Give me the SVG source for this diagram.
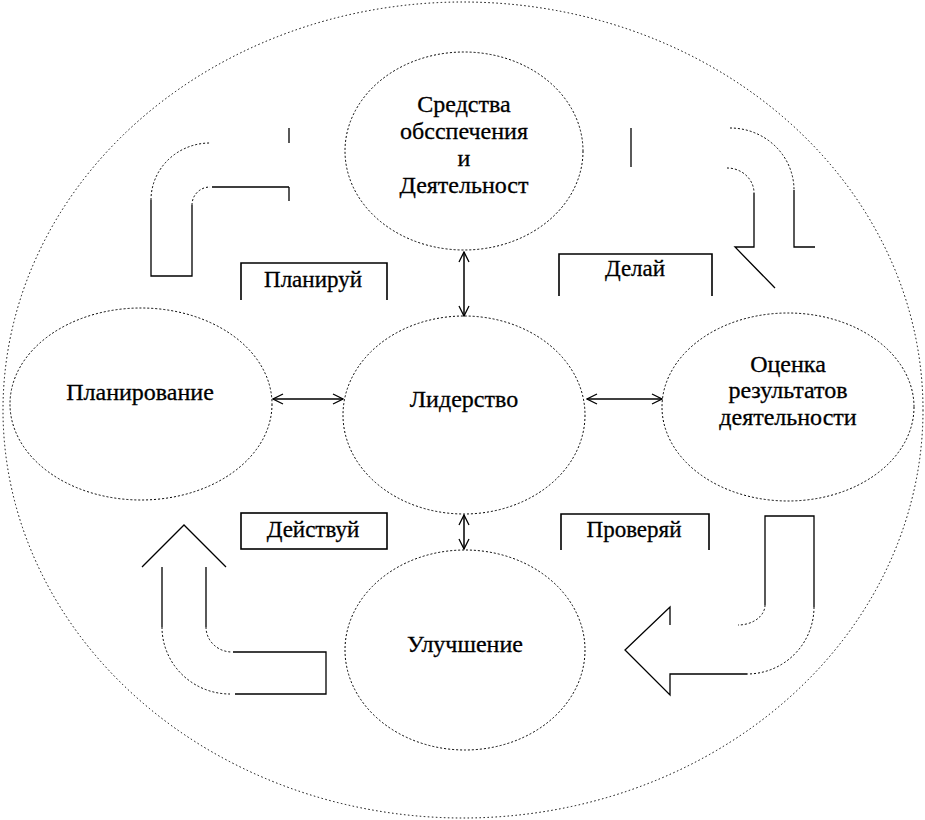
<svg xmlns="http://www.w3.org/2000/svg" width="925" height="820" viewBox="0 0 925 820">
<style>
.dot{fill:none;stroke:#000;stroke-width:1;stroke-dasharray:2 2}
.node{fill:#fff;stroke:#000;stroke-width:1;stroke-dasharray:2 2}
.solid{fill:none;stroke:#000;stroke-width:1.3}
.box{fill:none;stroke:#000;stroke-width:1.6}
.t{font-family:"Liberation Serif","Times New Roman",serif;font-size:24px;fill:#000;stroke:#000;stroke-width:0.3;text-anchor:middle}
.s{font-size:23px}
.conn{stroke:#000;stroke-width:1.5;fill:none;marker-start:url(#ah);marker-end:url(#ah)}
</style>
<defs>
<marker id="ah" viewBox="0 0 12 12" refX="11" refY="6" markerWidth="12" markerHeight="12" markerUnits="userSpaceOnUse" orient="auto-start-reverse">
<path d="M1,1 L11,6 L1,11" fill="none" stroke="#000" stroke-width="1.3"/>
</marker>
</defs>
<rect width="925" height="820" fill="#fff"/>
<ellipse id="outer" cx="463" cy="410" rx="460" ry="408" fill="none" stroke="#000" stroke-width="1" stroke-dasharray="1.5 2.5"/>

<g id="arrow-plan">
<path class="solid" d="M151,200 V276 H192 V205"/>
<path class="dot" d="M151,200 A59,57 0 0 1 210,143"/>
<path class="dot" d="M192,205 A18,18 0 0 1 210,187"/>
<path class="solid" d="M212,187 H289 M289,128 V143 M289,187 V201"/>
</g>
<g id="arrow-do">
<path class="solid" d="M631,128 V167"/>
<path class="dot" d="M730,128 A64,62 0 0 1 794,190"/>
<path class="solid" d="M794,190 V247 H815"/>
<path class="dot" d="M727,168 A27,25 0 0 1 754,193"/>
<path class="solid" d="M754,193 V247 H735 L775,288"/>
</g>
<g id="arrow-act">
<path class="solid" d="M142,567 L184,525 L226,567 M162,567 V627 M206,567 V627"/>
<path class="dot" d="M162,627 A68,67 0 0 0 230,694"/>
<path class="dot" d="M206,627 A26,25 0 0 0 232,652"/>
<path class="solid" d="M233,652 H326 V694 H235"/>
</g>
<g id="arrow-check">
<path class="solid" d="M765,605 V516 H814 V607"/>
<path class="dot" d="M814,607 A67,67 0 0 1 747,674"/>
<path class="dot" d="M765,605 A27,20 0 0 1 738,625"/>
<path class="solid" d="M747,674 H670 V695 L625,650 L670,607 V625"/>
</g>

<g id="node-means">
<ellipse class="node" cx="464" cy="151" rx="119" ry="99"/>
<text class="t" x="464" y="112">Средства</text>
<text class="t" x="464" y="139">обсспечения</text>
<text class="t" x="464" y="166">и</text>
<text class="t" x="464" y="193">Деятельност</text>
</g>
<g id="node-leadership">
<ellipse class="node" cx="464" cy="415" rx="121" ry="99"/>
<text class="t" x="464" y="407">Лидерство</text>
</g>
<g id="node-planning">
<ellipse class="node" cx="141" cy="404" rx="131" ry="96"/>
<text class="t" x="140" y="400">Планирование</text>
</g>
<g id="node-eval">
<ellipse class="node" cx="788" cy="407" rx="126" ry="94"/>
<text class="t" x="788" y="372">Оценка</text>
<text class="t" x="788" y="398">результатов</text>
<text class="t" x="788" y="425">деятельности</text>
</g>
<g id="node-improve">
<ellipse class="node" cx="465" cy="650" rx="120" ry="100"/>
<text class="t" x="465" y="652">Улучшение</text>
</g>

<g id="label-plan">
<path class="box" d="M241,300 V263 H387 V300"/>
<text class="t s" x="313" y="287">Планируй</text>
</g>
<g id="label-do">
<path class="box" d="M559,296 V254 H712 V296"/>
<text class="t s" x="635" y="276">Делай</text>
</g>
<g id="label-act">
<rect class="box" x="241" y="513" width="146" height="36"/>
<text class="t s" x="313" y="537">Действуй</text>
</g>
<g id="label-check">
<path class="box" d="M561,550 V514 H709 V550"/>
<text class="t s" x="634" y="537">Проверяй</text>
</g>

<g id="connectors">
<line class="conn" x1="464" y1="252" x2="464" y2="316"/>
<line class="conn" x1="464" y1="515" x2="464" y2="549"/>
<line class="conn" x1="273" y1="399" x2="343" y2="399"/>
<line class="conn" x1="587" y1="399" x2="662" y2="399"/>
</g>
</svg>
